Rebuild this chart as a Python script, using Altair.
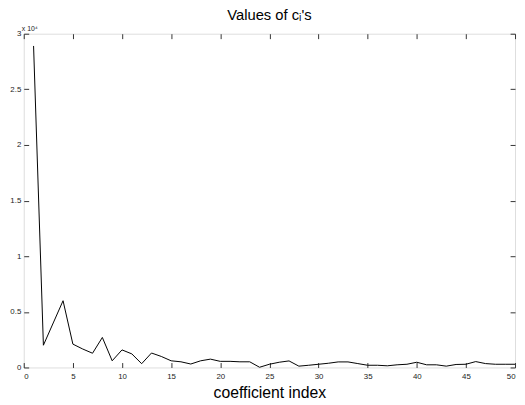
import altair as alt
import pandas as pd

index = list(range(1, 51))
values = [28900, 2000, 4000, 6000, 2100, 1660, 1280, 2700, 600, 1580,
          1220, 340, 1300, 990, 600, 510, 310, 600, 750, 550,
          550, 510, 510, 20, 290, 470, 590, 120, 200, 290,
          380, 500, 500, 350, 200, 200, 150, 240, 290, 470,
          240, 240, 120, 270, 290, 530, 350, 290, 290, 290]
x_ticks = [0, 5, 10, 15, 20, 25, 30, 35, 40, 45, 50]
y_ticks = [0, 5000, 10000, 15000, 20000, 25000, 30000]

df = pd.DataFrame({"k": index, "c": values})

FONT = "Liberation Sans"
xscale = alt.Scale(domain=[0, 50], nice=False, zero=False)
yscale = alt.Scale(domain=[0, 30000], nice=False)

base = alt.Chart(df)

line = base.mark_line(color="black", strokeWidth=1).encode(
    x=alt.X("k:Q", scale=xscale,
            axis=alt.Axis(values=x_ticks, orient="bottom", offset=-5, tickSize=5,
                          labelPadding=5, domain=False, grid=False,
                          labelFontSize=8, labelFont=FONT, labelColor="#222222",
                          tickColor="#333333", title="coefficient index",
                          titleFontSize=16, titleFont=FONT, titleFontWeight="normal",
                          titlePadding=5, titleColor="black")),
    y=alt.Y("c:Q", scale=yscale,
            axis=alt.Axis(values=y_ticks, orient="left", offset=-5, tickSize=5,
                          labelPadding=3, domain=False, grid=False,
                          labelFontSize=8, labelFont=FONT, labelColor="#222222",
                          tickColor="#333333", title=None,
                          labelExpr="datum.value/10000")),
)

ghost = base.mark_line(opacity=0).encode(
    x=alt.X("k:Q", scale=xscale,
            axis=alt.Axis(values=x_ticks, orient="top", offset=-5, tickSize=5,
                          labels=False, domain=False, grid=False,
                          tickColor="#333333", title=None)),
    y=alt.Y("c:Q", scale=yscale,
            axis=alt.Axis(values=y_ticks, orient="right", offset=-5, tickSize=5,
                          labels=False, domain=False, grid=False,
                          tickColor="#333333", title=None)),
)

exp_label = alt.Chart(pd.DataFrame({"t": ["x 10⁴"]})).mark_text(
    align="left", baseline="bottom", fontSize=7, font=FONT, color="#222222"
).encode(x=alt.value(-2), y=alt.value(-2), text="t:N")

chart = alt.layer(line, ghost, exp_label).resolve_axis(
    x="independent", y="independent"
).properties(
    width=499, height=339,
    title=alt.TitleParams("Values of cᵢ's", fontSize=15, font=FONT,
                          fontWeight="normal", color="black", offset=2),
    autosize=alt.AutoSizeParams(type="none"),
    padding={"left": 16, "top": 23, "right": 2, "bottom": 36},
).configure_view(stroke="#333333", strokeWidth=1).configure(background="white")

chart.save("out.html", embed_options={"renderer": "svg", "actions": False})
